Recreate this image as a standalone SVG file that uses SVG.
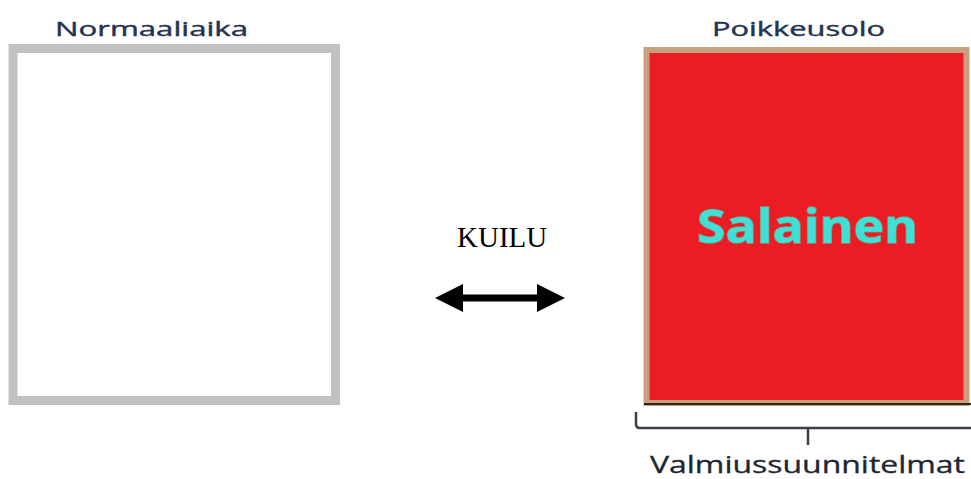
<svg xmlns="http://www.w3.org/2000/svg" width="971" height="479" viewBox="0 0 971 479">
<style>
.title{font-family:"Open Sans","Liberation Sans",sans-serif;font-size:20px;fill:#1f3352;stroke:#1f3352;stroke-width:0.4;}
.kuilu{font-family:"Liberation Serif",serif;font-size:29px;fill:#000;}
.secret{font-family:"Open Sans","Liberation Sans",sans-serif;font-weight:bold;font-size:46px;fill:#3fe0d6;stroke:#8a8f7a;stroke-width:1.5;paint-order:stroke;}
.plan{font-family:"Open Sans","Liberation Sans",sans-serif;font-size:23px;fill:#1e2633;stroke:#1e2633;stroke-width:0.3;}
</style>
<rect width="971" height="479" fill="#ffffff"/>
<g id="normaaliaika">
<rect x="13" y="48.5" width="322.5" height="352" fill="#ffffff" stroke="#c1c1c1" stroke-width="9"/>
<text class="title" x="55" y="36" textLength="193" lengthAdjust="spacingAndGlyphs">Normaaliaika</text>
</g>
<g id="poikkeusolo">
<rect x="646.5" y="50" width="320" height="353" fill="#ec1c24" stroke="#c9a07c" stroke-width="6"/>
<line x1="644" y1="404" x2="971" y2="404" stroke="#2a2420" stroke-width="2"/>
<text class="title" x="712" y="36" textLength="173" lengthAdjust="spacingAndGlyphs">Poikkeusolo</text>
<text class="secret" x="697" y="243" textLength="221" lengthAdjust="spacingAndGlyphs">Salainen</text>
</g>
<g id="kuilu">
<text class="kuilu" x="457" y="247">KUILU</text>
</g>
<g id="connectors">
<polygon points="435,298 463,284 463,294.5 537,294.5 537,284 565,298 537,312 537,301.5 463,301.5 463,312" fill="#000"/>
</g>
<g id="valmiussuunnitelmat">
<path d="M636,412 L636,424 Q636,428 640,428 L971,428 M808,428 L808,445" fill="none" stroke="#3a3f47" stroke-width="2.5"/>
<text class="plan" x="650" y="473" textLength="315" lengthAdjust="spacingAndGlyphs">Valmiussuunnitelmat</text>
</g>
</svg>
